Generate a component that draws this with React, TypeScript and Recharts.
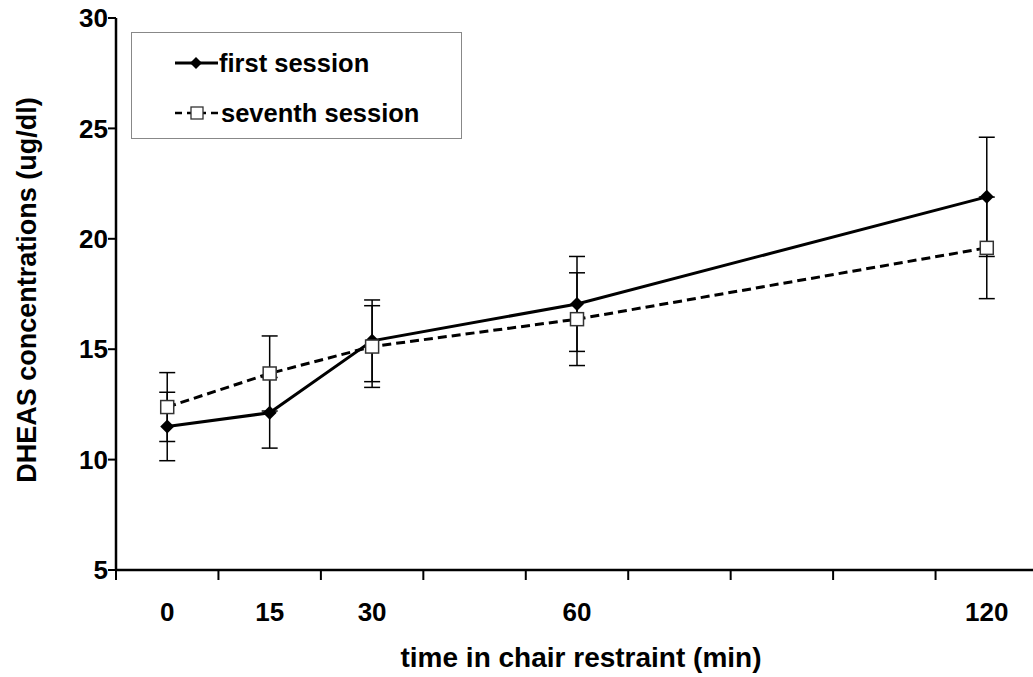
import React from "react";
import { LineChart, Line, XAxis, YAxis, ErrorBar, Legend, Label } from "recharts";

// x positions follow the original category axis (blank slots between 30/60 and 60/120)
const timeLabels = ["0", "15", "30", "", "60", "", "", "", "120"];
const firstSession = [11.5, 12.12, 15.38, null, 17.05, null, null, null, 21.9];
const firstSessionErr = [1.55, 1.6, 1.85, null, 2.15, null, null, null, 2.7];
const seventhSession = [12.38, 13.9, 15.12, null, 16.36, null, null, null, 19.59];
const seventhSessionErr = [1.56, 1.7, 1.85, null, 2.1, null, null, null, 2.3];
const yTicks = [5, 10, 15, 20, 25, 30];

const data = timeLabels.map((time, i) => ({
  time,
  first: firstSession[i],
  firstErr: firstSessionErr[i],
  seventh: seventhSession[i],
  seventhErr: seventhSessionErr[i],
}));

const FONT = "'Liberation Sans', Arial, sans-serif";
const CHART_W = 1038;
const CHART_H = 677;
const Y_AXIS_W = 116;
const BAND = (CHART_W - Y_AXIS_W) / timeLabels.length;

function XTick(props: any) {
  const { x, y, payload } = props;
  const left = x - BAND / 2;
  return (
    <g>
      <line x1={left} y1={y} x2={left} y2={y + 10} stroke="#000" strokeWidth={2} />
      <text
        x={x}
        y={y + 51}
        textAnchor="middle"
        fontSize={26}
        fontWeight="bold"
        fontFamily={FONT}
        fill="#000"
      >
        {payload.value}
      </text>
    </g>
  );
}

function Diamond(props: any) {
  const { cx, cy, index } = props;
  if (cx == null || cy == null) return <g key={index} />;
  const r = 7;
  return (
    <path
      key={index}
      d={`M${cx},${cy - r}L${cx + r},${cy}L${cx},${cy + r}L${cx - r},${cy}Z`}
      fill="#000"
    />
  );
}

function Square(props: any) {
  const { cx, cy, index } = props;
  if (cx == null || cy == null) return <g key={index} />;
  const h = 6.5;
  return (
    <rect
      key={index}
      x={cx - h}
      y={cy - h}
      width={h * 2}
      height={h * 2}
      fill="#fff"
      stroke="#333"
      strokeWidth={1.5}
    />
  );
}

function LegendBox() {
  return (
    <svg width={331} height={107} style={{ display: "block" }}>
      <line x1={43} y1={30} x2={86} y2={30} stroke="#000" strokeWidth={3} />
      <path d="M64,24L70,30L64,36L58,30Z" fill="#000" />
      <text x={87} y={39} fontSize={25.5} fontWeight="bold" fontFamily={FONT} fill="#000">
        first session
      </text>
      <line x1={43} y1={80} x2={88} y2={80} stroke="#000" strokeWidth={2.5} strokeDasharray="7 5" />
      <rect x={59} y={74} width={12} height={12} fill="#fff" stroke="#333" strokeWidth={1.3} />
      <text x={89} y={89} fontSize={25.5} fontWeight="bold" fontFamily={FONT} fill="#000">
        seventh session
      </text>
    </svg>
  );
}

export default function App() {
  return (
    <div
      style={{
        position: "absolute",
        left: 0,
        top: 0,
        width: 1033,
        height: CHART_H,
        overflow: "hidden",
        background: "#fff",
      }}
    >
      <LineChart
        width={CHART_W}
        height={CHART_H}
        data={data}
        margin={{ top: 18, right: 0, left: 0, bottom: 0 }}
      >
        <XAxis
          dataKey="time"
          height={107}
          interval={0}
          padding={{ left: BAND / 2, right: BAND / 2 }}
          tickLine={false}
          tickSize={0}
          tickMargin={0}
          tick={<XTick />}
          axisLine={{ stroke: "#000", strokeWidth: 2.5 }}
        >
          <Label
            content={() => (
              <text
                x={581}
                y={667}
                textAnchor="middle"
                fontSize={28}
                fontWeight="bold"
                fontFamily={FONT}
                fill="#000"
              >
                time in chair restraint (min)
              </text>
            )}
          />
        </XAxis>
        <YAxis
          width={Y_AXIS_W}
          domain={[5, 30]}
          ticks={yTicks}
          interval={0}
          tickSize={8}
          tickMargin={0}
          tick={{ fontSize: 26, fontWeight: "bold", fontFamily: FONT, fill: "#000" }}
          tickLine={{ stroke: "#000", strokeWidth: 2 }}
          axisLine={{ stroke: "#000", strokeWidth: 2.5 }}
        >
          <Label
            content={(p: any) => {
              const vb = p.viewBox;
              const cy = vb.y + vb.height / 2;
              return (
                <text
                  transform={`translate(36,${cy - 4}) rotate(-90)`}
                  textAnchor="middle"
                  fontSize={27}
                  fontWeight="bold"
                  fontFamily={FONT}
                  fill="#000"
                >
                  DHEAS concentrations (ug/dl)
                </text>
              );
            }}
          />
        </YAxis>
        <Legend
          layout="vertical"
          align="center"
          verticalAlign="middle"
          content={() => <LegendBox />}
          wrapperStyle={{
            position: "absolute",
            left: 131,
            top: 32,
            width: 331,
            height: 107,
            border: "1px solid #888",
            background: "#fff",
            boxSizing: "border-box",
          }}
        />
        <Line
          type="linear"
          dataKey="first"
          name="first session"
          stroke="#000"
          strokeWidth={3}
          connectNulls
          dot={Diamond}
          activeDot={false}
          isAnimationActive={false}
        >
          <ErrorBar dataKey="firstErr" direction="y" width={8} stroke="#000" strokeWidth={1.5} />
        </Line>
        <Line
          type="linear"
          dataKey="seventh"
          name="seventh session"
          stroke="#000"
          strokeWidth={3}
          strokeDasharray="9 5"
          connectNulls
          dot={Square}
          activeDot={false}
          isAnimationActive={false}
        >
          <ErrorBar dataKey="seventhErr" direction="y" width={8} stroke="#000" strokeWidth={1.5} />
        </Line>
      </LineChart>
    </div>
  );
}
